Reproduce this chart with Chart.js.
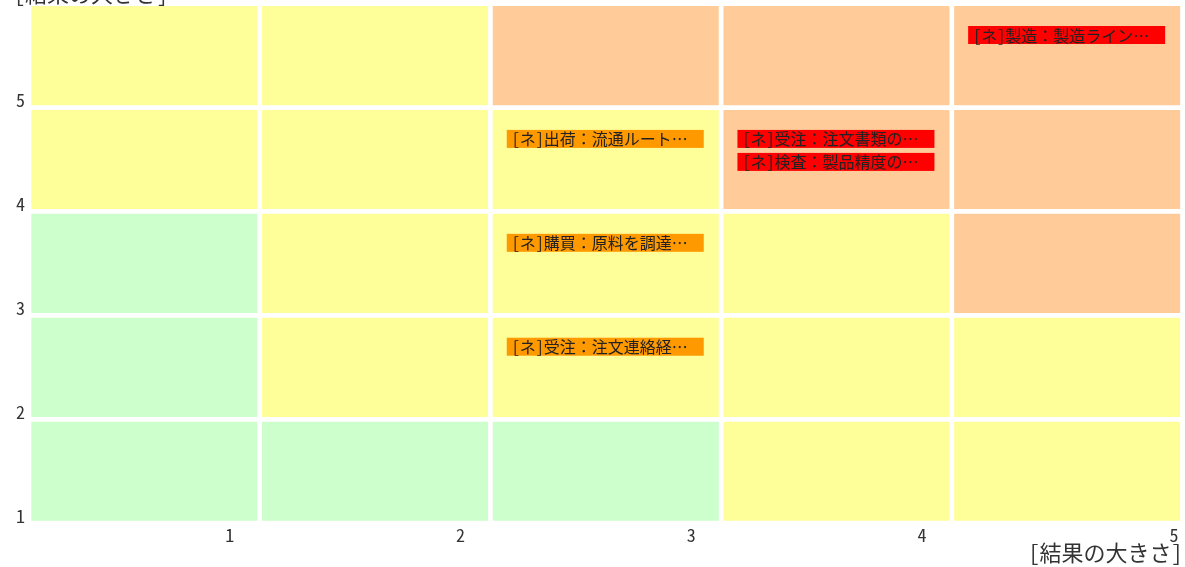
<!DOCTYPE html>
<html>
<head>
<meta charset="utf-8">
<script src="https://cdn.jsdelivr.net/npm/chart.js@4/dist/chart.umd.min.js"></script>
<style>
  html, body { margin: 0; padding: 0; background: #ffffff; }
  #wrap { width: 1185px; height: 567px; position: relative; }
</style>
</head>
<body>
<div id="wrap"><canvas id="c"></canvas></div>
<script>
// ---- data ----
const xLabels = ['1', '2', '3', '4', '5'];
const yLabels = ['1', '2', '3', '4', '5'];
const xTitle = '[結果の大きさ]';
const yTitle = '[結果の大きさ]';

// zone of each cell, one array per row (row 1 = bottom), one entry per column
const zoneRow1 = ['low', 'low', 'low', 'mid', 'mid'];
const zoneRow2 = ['low', 'mid', 'mid', 'mid', 'mid'];
const zoneRow3 = ['low', 'mid', 'mid', 'mid', 'high'];
const zoneRow4 = ['mid', 'mid', 'mid', 'high', 'high'];
const zoneRow5 = ['mid', 'mid', 'high', 'high', 'high'];
const cellSpan = [1, 1, 1, 1, 1];

const zoneColors = { low: '#CCFFCC', mid: '#FFFF99', high: '#FFCC99' };

// risk items
const riskNames = [
  '[ネ]製造：製造ライン…',
  '[ネ]出荷：流通ルート…',
  '[ネ]受注：注文書類の…',
  '[ネ]検査：製品精度の…',
  '[ネ]購買：原料を調達…',
  '[ネ]受注：注文連絡経…'
];
const riskImpact     = [5, 3, 4, 4, 3, 3];
const riskLikelihood = [5, 4, 4, 4, 3, 2];
const riskLevel      = ['high', 'mid', 'high', 'high', 'mid', 'mid'];
const riskColors = { high: '#FF0000', mid: '#FF9900' };

// ---- style ----
const FONT = "'Noto Sans Mono CJK JP', 'Noto Sans CJK JP', sans-serif";
const GAP = 2.35;
const TEXT = '#333333';

const rows = [zoneRow1, zoneRow2, zoneRow3, zoneRow4, zoneRow5];
const datasets = rows.map((row, r) => ({
  label: 'row' + (r + 1),
  data: cellSpan,
  backgroundColor: row.map(z => zoneColors[z]),
  borderColor: '#ffffff',
  borderWidth: GAP,
  borderSkipped: false,
  inflateAmount: 0,
  stack: 'grid',
  categoryPercentage: 1,
  barPercentage: 1
}));

const overlay = {
  id: 'overlay',
  afterDatasetsDraw(chart) {
    const ctx = chart.ctx;
    const x = chart.scales.x, y = chart.scales.y;
    const pitch = x.getPixelForValue(1) - x.getPixelForValue(0);
    const slot = {};
    ctx.save();
    ctx.font = '16px ' + FONT;
    ctx.textBaseline = 'middle';
    ctx.textAlign = 'left';
    riskNames.forEach((name, i) => {
      const key = riskImpact[i] + '_' + riskLikelihood[i];
      const n = slot[key] = (slot[key] === undefined ? 0 : slot[key] + 1);
      const left = x.getPixelForValue(riskImpact[i] - 1) - pitch / 2 + GAP + 14;
      const top = y.getPixelForValue(riskLikelihood[i]) + GAP + 20 + n * 23;
      ctx.fillStyle = riskColors[riskLevel[i]];
      ctx.fillRect(left, top, 197, 18);
      ctx.fillStyle = '#222222';
      ctx.fillText(name, left + 5, top + 9.5);
    });
    ctx.font = '22px ' + FONT;
    ctx.textBaseline = 'alphabetic';
    ctx.fillStyle = TEXT;
    ctx.fillText(yTitle, 14, 2);
    ctx.restore();
  }
};

new Chart(document.getElementById('c'), {
  type: 'bar',
  data: { labels: xLabels, datasets },
  options: {
    responsive: true,
    maintainAspectRatio: false,
    animation: false,
    events: [],
    layout: { padding: { top: 3.65, right: 2.5, left: 0, bottom: 0 } },
    plugins: { legend: { display: false }, tooltip: { enabled: false }, title: { display: false } },
    scales: {
      x: {
        stacked: true,
        offset: true,
        grid: { display: false, drawTicks: false },
        border: { display: false },
        ticks: {
          autoSkip: false, maxRotation: 0, minRotation: 0,
          align: 'end', labelOffset: 90, padding: 1,
          color: TEXT, font: { family: FONT, size: 18 },
          callback: (v, i) => (i < 4 ? xLabels[i] : '')
        },
        title: {
          display: true, text: xTitle, align: 'end', color: TEXT,
          font: { family: FONT, size: 22 }, padding: { top: 0, bottom: 1 }
        },
        afterFit: s => { s.height = 43.8; s.paddingLeft = 0; s.paddingRight = 0; }
      },
      x5: {
        type: 'category',
        labels: xLabels,
        position: { y: 0 },
        offset: true,
        grid: { display: false, drawTicks: false },
        border: { display: false },
        ticks: {
          autoSkip: false, maxRotation: 0, minRotation: 0,
          align: 'end', labelOffset: 111.3, padding: 1,
          color: TEXT, font: { family: FONT, size: 18 },
          callback: (v, i) => (i === 4 ? xLabels[4] : '')
        },
        afterFit: s => { s.height = 0; s.paddingLeft = 0; s.paddingRight = 0; }
      },
      y: {
        stacked: true,
        min: 0, max: 5,
        grid: { display: false, drawTicks: false },
        border: { display: false },
        ticks: {
          stepSize: 1, autoSkip: false,
          labelOffset: -7, padding: 4,
          color: TEXT, font: { family: FONT, size: 18 },
          callback: v => (v < 5 ? yLabels[v] : '')
        },
        afterFit: s => { s.width = 29; s.paddingTop = 0; s.paddingBottom = 0; }
      }
    }
  },
  plugins: [overlay]
});
</script>
</body>
</html>
